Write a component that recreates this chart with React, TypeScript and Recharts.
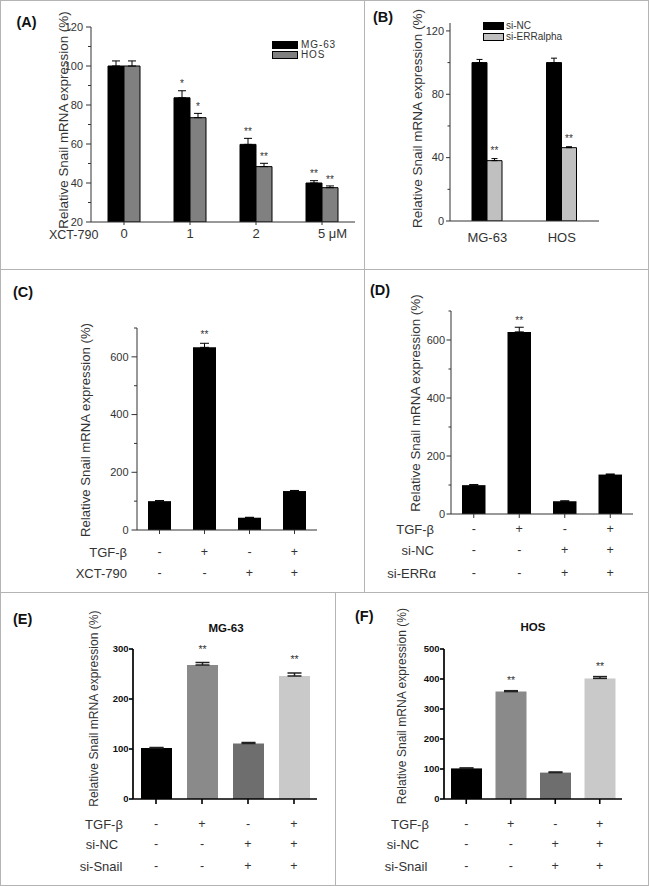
import React from 'react';
import { BarChart, Bar, XAxis, YAxis, ErrorBar, LabelList, Legend, Cell } from 'recharts';

const FONT = "'Liberation Sans', Arial, Helvetica, sans-serif";
const NARROW = "'Liberation Sans Narrow', 'Arial Narrow', 'Liberation Sans', Arial, sans-serif";
const TXT = '#333';

// ---------- Panel A ----------
const doseLabels = ['0', '1', '2', '5 μM'];
const seriesNamesA = ['MG-63', 'HOS'];
const mg63Xct = [100, 83.7, 59.8, 40];
const mg63XctErr = [2.6, 3.6, 3.1, 1.2];
const mg63XctSig = ['', '*', '**', '**'];
const hosXct = [100, 73.5, 48.4, 37.6];
const hosXctErr = [2.6, 2.2, 1.7, 0.9];
const hosXctSig = ['', '*', '**', '**'];
const yMajorA = [20, 40, 60, 80, 100, 120];
const yMinorA = [30, 50, 70, 90, 110];

// ---------- Panel B ----------
const cellLines = ['MG-63', 'HOS'];
const seriesNamesB = ['si-NC', 'si-ERRalpha'];
const siNCvals = [100, 100];
const siNCErr = [2, 2.8];
const siNCSig = ['', ''];
const siERRvals = [38.1, 46.3];
const siERRErr = [1.3, 0.6];
const siERRSig = ['**', '**'];
const yMajorB = [0, 40, 80, 120];
const yMinorB = [20, 60, 100];

// ---------- Panel C ----------
const groupsCD = ['g1', 'g2', 'g3', 'g4'];
const tgfSigns = ['-', '+', '-', '+'];
const xctSigns = ['-', '-', '+', '+'];
const snailC = [100, 633, 42.6, 135];
const snailCErr = [2, 14, 1.5, 2];
const sigC = ['', '**', '', ''];
const yMajorCD = [0, 200, 400, 600];
const yMinorCD = [100, 300, 500, 700];

// ---------- Panel D ----------
const siNCSigns = ['-', '-', '+', '+'];
const siERRSigns = ['-', '-', '+', '+'];
const snailD = [99.5, 628, 44, 136];
const snailDErr = [2, 16, 1.5, 2];
const sigD = ['', '**', '', ''];

// ---------- Panel E / F ----------
const siSnailSigns = ['-', '-', '+', '+'];
const barColorsEF = ['#000000', '#8a8a8a', '#6e6e6e', '#c9c9c9'];
const snailE = [102, 268, 111, 246];
const snailEErr = [1, 5, 2, 6];
const sigE = ['', '**', '', '**'];
const yMajorE = [0, 100, 200, 300];
const snailF = [102, 358, 88, 402];
const snailFErr = [1.5, 3, 2, 6];
const sigF = ['', '**', '', '**'];
const yMajorF = [0, 100, 200, 300, 400, 500];

// ---------- tables ----------
const dataA = doseLabels.map((dose, i) => ({
  dose,
  mg: mg63Xct[i], mgErr: [0, mg63XctErr[i]], mgSig: mg63XctSig[i],
  hos: hosXct[i], hosErr: [0, hosXctErr[i]], hosSig: hosXctSig[i],
}));
const dataB = cellLines.map((line, i) => ({
  line,
  nc: siNCvals[i], ncErr: [0, siNCErr[i]], ncSig: siNCSig[i],
  err: siERRvals[i], errErr: [0, siERRErr[i]], errSig: siERRSig[i],
}));
const mkSingle = (vals: number[], errs: number[], sigs: string[]) =>
  groupsCD.map((g, i) => ({ g, v: vals[i], e: [0, errs[i]], s: sigs[i] }));
const dataC = mkSingle(snailC, snailCErr, sigC);
const dataD = mkSingle(snailD, snailDErr, sigD);
const dataE = mkSingle(snailE, snailEErr, sigE);
const dataF = mkSingle(snailF, snailFErr, sigF);

// ---------- helpers ----------
const sortNums = (a: number[]) => [...a].sort((x, y) => x - y);

type YTickOpts = {
  majors: number[]; major: number; minor: number; gap: number; fontSize: number;
  bold?: boolean; family?: string; color: string; stroke: string; sw: number;
};
const makeYTick = (o: YTickOpts) => (props: any) => {
  const { x, y, payload } = props;
  const v = payload.value;
  const isMajor = o.majors.includes(v);
  const len = isMajor ? o.major : o.minor;
  return (
    <g>
      <line x1={x - len} x2={x} y1={y} y2={y} stroke={o.stroke} strokeWidth={o.sw} />
      {isMajor && (
        <text x={x - len - o.gap} y={y} dy="0.35em" textAnchor="end" fontSize={o.fontSize}
          fontWeight={o.bold ? 'bold' : 'normal'} fontFamily={o.family || FONT} fill={o.color}>
          {v}
        </text>
      )}
    </g>
  );
};

const makeSignTick = (rows: string[][], offsets: number[], tickLen: number, stroke: string, sw: number) =>
  (props: any) => {
    const { x, y } = props;
    const idx = props.index ?? props.payload?.index ?? 0;
    return (
      <g>
        <line x1={x} x2={x} y1={y} y2={y + tickLen} stroke={stroke} strokeWidth={sw} />
        {rows.map((r, k) => (
          <text key={k} x={x} y={y + offsets[k]} dy="0.35em" textAnchor="middle" fontSize={12.5}
            fontFamily={FONT} fill={TXT}>
            {r[idx]}
          </text>
        ))}
      </g>
    );
  };

const makeStar = (vals: number[], errs: number[], sigs: string[], base: number, gap: number, fontSize: number) =>
  (props: any) => {
    const vb = props.viewBox || props;
    const idx = props.index ?? 0;
    const s = sigs[idx];
    if (!s) return null;
    const top = Math.min(vb.y, vb.y + vb.height);
    const h = Math.abs(vb.height);
    const ppu = h / (vals[idx] - base);
    const yErr = top - errs[idx] * ppu;
    return (
      <text x={vb.x + vb.width / 2} y={yErr - gap} textAnchor="middle" fontSize={fontSize}
        fontFamily={FONT} fill={TXT}>
        {s}
      </text>
    );
  };

const makeLegend = (o: { order: string[]; boxW: number; boxH: number; rowH: number; fontSize: number; textGap: number; spacing: number }) =>
  (props: any) => {
    const payload = [...(props.payload || [])].sort(
      (a: any, b: any) => o.order.indexOf(a.value) - o.order.indexOf(b.value));
    return (
      <div style={{ fontFamily: FONT }}>
        {payload.map((e: any, i: number) => (
          <div key={i} style={{ display: 'flex', alignItems: 'center', height: o.rowH }}>
            <span style={{
              display: 'inline-block', width: o.boxW, height: o.boxH,
              background: e.color || (e.payload && e.payload.fill), border: '1px solid #000', boxSizing: 'border-box',
            }} />
            <span style={{ marginLeft: o.textGap, fontSize: o.fontSize, color: TXT, lineHeight: 1, letterSpacing: o.spacing }}>{e.value}</span>
          </div>
        ))}
      </div>
    );
  };

const AXIS_THIN = { stroke: '#333', strokeWidth: 1 };
const AXIS_BOLD = { stroke: '#000', strokeWidth: 1.7 };

// ---------- Panels ----------
const XTickA = (props: any) => {
  const { x, y, payload } = props;
  const v: string = payload.value;
  const unit = v.includes(' ');
  return (
    <g>
      <line x1={x} x2={x} y1={y} y2={y + 3} stroke="#333" strokeWidth={1} />
      <text x={unit ? x - 4 : x} y={y + 11.5} dy="0.35em" textAnchor={unit ? 'start' : 'middle'}
        fontSize={13} fontFamily={FONT} fill={TXT}>
        {v}
      </text>
    </g>
  );
};

const XTickB = (props: any) => {
  const { x, y, payload } = props;
  return (
    <text x={x} y={y + 16} dy="0.35em" textAnchor="middle" fontSize={13} fontFamily={FONT} fill={TXT}>
      {payload.value}
    </text>
  );
};

function PanelA() {
  return (
    <BarChart width={364} height={269} data={dataA} margin={{ top: 27, right: 9, bottom: 17, left: 51 }} barGap={0}>
      <XAxis dataKey="dose" height={30} interval={0} tickLine={false} tickSize={0} tickMargin={0}
        axisLine={AXIS_THIN} tick={XTickA} />
      <YAxis width={40} domain={[20, 120]} allowDataOverflow ticks={sortNums([...yMajorA, ...yMinorA])}
        interval={0} tickLine={false} tickSize={0} tickMargin={0} axisLine={AXIS_THIN}
        tick={makeYTick({ majors: yMajorA, major: 5, minor: 3, gap: 3, fontSize: 11, color: TXT, stroke: '#333', sw: 1 })} />
      <Bar dataKey="mg" name={seriesNamesA[0]} fill="#000000" stroke="#000" strokeWidth={1} barSize={16} isAnimationActive={false}>
        <ErrorBar dataKey="mgErr" width={4} stroke="#000" strokeWidth={1} direction="y" />
        <LabelList dataKey="mgSig" content={makeStar(mg63Xct, mg63XctErr, mg63XctSig, 20, 3.3, 10)} />
      </Bar>
      <Bar dataKey="hos" name={seriesNamesA[1]} fill="#808080" stroke="#000" strokeWidth={1} barSize={16} isAnimationActive={false}>
        <ErrorBar dataKey="hosErr" width={4} stroke="#000" strokeWidth={1} direction="y" />
        <LabelList dataKey="hosSig" content={makeStar(hosXct, hosXctErr, hosXctSig, 20, 3.3, 10)} />
      </Bar>
      <Legend layout="vertical" align="center" verticalAlign="middle"
        wrapperStyle={{ left: 272, top: 40, width: 'auto', height: 'auto' }}
        content={makeLegend({ order: seriesNamesA, boxW: 26, boxH: 7.5, rowH: 10, fontSize: 10, textGap: 3, spacing: 0.9 })} />
    </BarChart>
  );
}

function PanelB() {
  return (
    <BarChart width={285} height={269} data={dataB} margin={{ top: 23, right: 50, bottom: 18, left: 46 }} barGap={0}>
      <XAxis dataKey="line" height={30} interval={0} tickLine={false} tickSize={0} tickMargin={0}
        axisLine={AXIS_THIN} tick={XTickB} />
      <YAxis width={40} domain={[0, 125]} allowDataOverflow ticks={sortNums([...yMajorB, ...yMinorB])}
        interval={0} tickLine={false} tickSize={0} tickMargin={0} axisLine={AXIS_THIN}
        tick={makeYTick({ majors: yMajorB, major: 4, minor: 2.5, gap: 2, fontSize: 11, color: TXT, stroke: '#333', sw: 1 })} />
      <Bar dataKey="nc" name={seriesNamesB[0]} fill="#000000" stroke="#000" strokeWidth={1} barSize={15} isAnimationActive={false}>
        <ErrorBar dataKey="ncErr" width={3} stroke="#000" strokeWidth={1} direction="y" />
        <LabelList dataKey="ncSig" content={makeStar(siNCvals, siNCErr, siNCSig, 0, 4.5, 10)} />
      </Bar>
      <Bar dataKey="err" name={seriesNamesB[1]} fill="#c0c0c0" stroke="#000" strokeWidth={1} barSize={15} isAnimationActive={false}>
        <ErrorBar dataKey="errErr" width={3} stroke="#000" strokeWidth={1} direction="y" />
        <LabelList dataKey="errSig" content={makeStar(siERRvals, siERRErr, siERRSig, 0, 4.5, 10)} />
      </Bar>
      <Legend layout="vertical" align="center" verticalAlign="middle"
        wrapperStyle={{ left: 119, top: 20.5, width: 'auto', height: 'auto' }}
        content={makeLegend({ order: seriesNamesB, boxW: 21, boxH: 7.5, rowH: 11, fontSize: 10, textGap: 2, spacing: 0 })} />
    </BarChart>
  );
}

function PanelC() {
  return (
    <BarChart width={364} height={323} data={dataC} margin={{ top: 59, right: 47, bottom: 32, left: 97 }}>
      <XAxis dataKey="g" height={30} interval={0} tickLine={false} tickSize={0} tickMargin={0}
        axisLine={AXIS_THIN} tick={makeSignTick([tgfSigns, xctSigns], [22, 43], 4, '#333', 1)} />
      <YAxis width={40} domain={[0, 700]} allowDataOverflow ticks={sortNums([...yMajorCD, ...yMinorCD])}
        interval={0} tickLine={false} tickSize={0} tickMargin={0} axisLine={AXIS_THIN}
        tick={makeYTick({ majors: yMajorCD, major: 5.5, minor: 3, gap: 3, fontSize: 11, color: TXT, stroke: '#333', sw: 1 })} />
      <Bar dataKey="v" fill="#000000" barSize={23} isAnimationActive={false}>
        <ErrorBar dataKey="e" width={4.5} stroke="#000" strokeWidth={1} direction="y" />
        <LabelList dataKey="s" content={makeStar(snailC, snailCErr, sigC, 0, 5, 10)} />
      </Bar>
    </BarChart>
  );
}

function PanelD() {
  return (
    <BarChart width={285} height={323} data={dataD} margin={{ top: 42, right: 16, bottom: 48, left: 47 }}>
      <XAxis dataKey="g" height={30} interval={0} tickLine={false} tickSize={0} tickMargin={0}
        axisLine={AXIS_THIN} tick={makeSignTick([tgfSigns, siNCSigns, siERRSigns], [15, 36, 59], 4, '#333', 1)} />
      <YAxis width={40} domain={[0, 700]} allowDataOverflow ticks={sortNums([...yMajorCD, ...yMinorCD])}
        interval={0} tickLine={false} tickSize={0} tickMargin={0} axisLine={AXIS_THIN}
        tick={makeYTick({ majors: yMajorCD, major: 4.5, minor: 2.5, gap: 1.5, fontSize: 11, color: TXT, stroke: '#333', sw: 1 })} />
      <Bar dataKey="v" fill="#000000" barSize={23.5} isAnimationActive={false}>
        <ErrorBar dataKey="e" width={4.5} stroke="#000" strokeWidth={1} direction="y" />
        <LabelList dataKey="s" content={makeStar(snailD, snailDErr, sigD, 0, 3.5, 10)} />
      </Bar>
    </BarChart>
  );
}

function PanelEF(props: { width: number; marginLeft: number; marginRight: number; data: any[]; vals: number[]; errs: number[]; sigs: string[]; max: number; majors: number[]; starGap: number }) {
  return (
    <BarChart width={props.width} height={294} data={props.data}
      margin={{ top: 57, right: props.marginRight, bottom: 57, left: props.marginLeft }}>
      <XAxis dataKey="g" height={30} interval={0} tickLine={false} tickSize={0} tickMargin={0}
        axisLine={AXIS_BOLD} tick={makeSignTick([tgfSigns, siNCSigns, siSnailSigns], [25, 45, 67], 5, '#000', 1.6)} />
      <YAxis width={40} domain={[0, props.max]} allowDataOverflow ticks={props.majors}
        interval={0} tickLine={false} tickSize={0} tickMargin={0} axisLine={AXIS_BOLD}
        tick={makeYTick({ majors: props.majors, major: 4, minor: 0, gap: 0.5, fontSize: 9.5, bold: true, family: NARROW, color: '#111', stroke: '#000', sw: 1.6 })} />
      <Bar dataKey="v" barSize={31} isAnimationActive={false}>
        {props.data.map((_, i) => (
          <Cell key={i} fill={barColorsEF[i]} />
        ))}
        <ErrorBar dataKey="e" width={7} stroke="#222" strokeWidth={1.5} direction="y" />
        <LabelList dataKey="s" content={makeStar(props.vals, props.errs, props.sigs, 0, props.starGap, 10.5)} />
      </Bar>
    </BarChart>
  );
}

const yLabel = 'Relative Snail mRNA expression (%)';

function Overlay() {
  const rowText = (x: number, y: number, t: string, anchor: 'start' | 'middle' | 'end', fs: number = 13) => (
    <text x={x} y={y} dy="0.35em" textAnchor={anchor} fontSize={fs} fontFamily={FONT} fill={TXT}>{t}</text>
  );
  const ylab = (x: number, y: number, fs: number) => (
    <text x={x} y={y} transform={`rotate(-90 ${x} ${y})`} textAnchor="middle" dominantBaseline="central"
      fontSize={fs} fontFamily={FONT} fill={TXT}>{yLabel}</text>
  );
  const letter = (x: number, y: number, t: string) => (
    <text x={x} y={y} fontSize={14.5} fontWeight="bold" fontFamily={FONT} fill="#111">{t}</text>
  );
  const line = { stroke: '#b4b4b4', strokeWidth: 1 };
  return (
    <svg width={649} height={886} style={{ position: 'absolute', left: 0, top: 0, pointerEvents: 'none' }}>
      <rect x={0.5} y={0.5} width={648} height={885} fill="none" {...line} />
      <line x1={0} x2={649} y1={269.5} y2={269.5} {...line} />
      <line x1={0} x2={649} y1={592.5} y2={592.5} {...line} />
      <line x1={364.5} x2={364.5} y1={0} y2={592} {...line} />
      <line x1={335.5} x2={335.5} y1={592} y2={886} {...line} />

      {letter(16.5, 27, '(A)')}
      {letter(373, 22, '(B)')}
      {letter(13, 297, '(C)')}
      {letter(370, 295, '(D)')}
      {letter(13, 624, '(E)')}
      {letter(355, 621, '(F)')}

      {ylab(63, 120, 13.4)}
      {ylab(417, 118.5, 13.5)}
      {ylab(85, 430, 13.2)}
      {ylab(415, 403, 13.4)}
      {ylab(94, 708.5, 12.1)}
      {ylab(402, 706, 12.1)}

      {rowText(49, 234.5, 'XCT-790', 'start', 12.5)}

      {rowText(127, 552, 'TGF-β', 'end')}
      {rowText(127, 573, 'XCT-790', 'end')}

      {rowText(434, 529, 'TGF-β', 'end')}
      {rowText(434, 550, 'si-NC', 'end')}
      {rowText(436, 573, 'si-ERRα', 'end')}

      {rowText(104, 824, 'TGF-β', 'middle')}
      {rowText(102, 844, 'si-NC', 'middle')}
      {rowText(101, 866, 'si-Snail', 'middle')}

      {rowText(410, 824, 'TGF-β', 'middle')}
      {rowText(403, 844, 'si-NC', 'middle')}
      {rowText(406, 866, 'si-Snail', 'middle')}

      <text x={226} y={628} dy="0.35em" textAnchor="middle" fontSize={11.5} fontWeight="bold" fontFamily={NARROW} fill="#111">MG-63</text>
      <text x={533} y={627} dy="0.35em" textAnchor="middle" fontSize={11.5} fontWeight="bold" fontFamily={NARROW} fill="#111">HOS</text>
    </svg>
  );
}

export default function App() {
  return (
    <div style={{ position: 'absolute', left: 0, top: 0, width: 649, height: 886, background: '#fff', overflow: 'hidden', fontFamily: FONT }}>
      <div style={{ position: 'absolute', left: 0, top: 0 }}><PanelA /></div>
      <div style={{ position: 'absolute', left: 364, top: 0 }}><PanelB /></div>
      <div style={{ position: 'absolute', left: 0, top: 269 }}><PanelC /></div>
      <div style={{ position: 'absolute', left: 364, top: 269 }}><PanelD /></div>
      <div style={{ position: 'absolute', left: 0, top: 592 }}>
        <PanelEF width={335} marginLeft={93} marginRight={18} data={dataE} vals={snailE} errs={snailEErr}
          sigs={sigE} max={300} majors={yMajorE} starGap={10} />
      </div>
      <div style={{ position: 'absolute', left: 335, top: 592 }}>
        <PanelEF width={314} marginLeft={69} marginRight={27} data={dataF} vals={snailF} errs={snailFErr}
          sigs={sigF} max={500} majors={yMajorF} starGap={7} />
      </div>
      <Overlay />
    </div>
  );
}
